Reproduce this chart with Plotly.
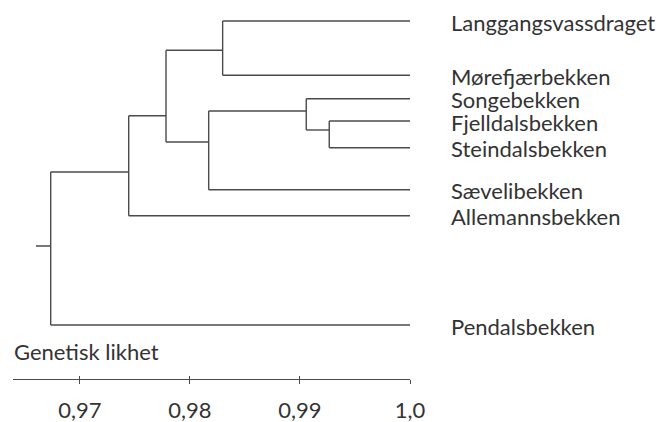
import plotly.graph_objects as go

# ---- data ----
leaves = ["Langgangsvassdraget", "Mørefjærbekken", "Songebekken", "Fjelldalsbekken",
          "Steindalsbekken", "Sævelibekken", "Allemannsbekken", "Pendalsbekken"]
# merges: (child_a, child_b, similarity); children are leaf names or merge ids "m0".."m6"
merge_a = ["Fjelldalsbekken", "Songebekken", "m1", "Langgangsvassdraget", "m3", "m4", "m5"]
merge_b = ["Steindalsbekken", "m0", "Sævelibekken", "Mørefjærbekken", "m2", "Allemannsbekken", "Pendalsbekken"]
merge_sim = [0.99266, 0.99057, 0.98170, 0.98297, 0.97782, 0.97443, 0.96734]
root_stub_sim = 0.96600
tick_vals = [0.97, 0.98, 0.99, 1.0]
tick_text = ["0,97", "0,98", "0,99", "1,0"]
axis_title = "Genetisk likhet"

# ---- layout positions (rows, in pixel-like units) ----
leaf_row = [21, 75.3, 98.7, 121, 147.7, 189.7, 215.7, 325]
merge_row = [130, 111, 142, 50.3, 115.7, 172, 246]

LINE = "#4a4a4a"
TEXT = "#333333"
FONT = "Lato"
FS = 22

pos = {}
for name, r in zip(leaves, leaf_row):
    pos[name] = (1.0, r)
for i, (s, r) in enumerate(zip(merge_sim, merge_row)):
    pos[f"m{i}"] = (s, r)

xs, ys = [], []
for i, (a, b, s) in enumerate(zip(merge_a, merge_b, merge_sim)):
    ax_, ay = pos[a]
    bx, by = pos[b]
    xs += [s, s, None]; ys += [ay, by, None]
    xs += [ax_, s, None]; ys += [ay, ay, None]
    xs += [bx, s, None]; ys += [by, by, None]
rs, rr = pos[f"m{len(merge_sim)-1}"]
xs += [root_stub_sim, rs, None]; ys += [rr, rr, None]

fig = go.Figure()
fig.add_trace(go.Scatter(x=xs, y=ys, mode="lines",
                         line=dict(color=LINE, width=1.4), hoverinfo="skip",
                         showlegend=False, cliponaxis=False))

annotations = []
for name, r in zip(leaves, leaf_row):
    annotations.append(dict(x=1.0, y=r, xref="x", yref="y", text=name, showarrow=False,
                            xanchor="left", yanchor="middle", xshift=40, yshift=-1,
                            borderpad=0,
                            font=dict(family=FONT, size=FS, color=TEXT)))
annotations.append(dict(x=13.3 / 664, y=351.7, xref="paper", yref="y", text=axis_title,
                        showarrow=False, xanchor="left", yanchor="middle", xshift=-1,
                        font=dict(family=FONT, size=FS, color=TEXT)))

axis_pos = 1 - 379 / 422
x_range = [0.96394, 1.0]
fig.update_layout(
    width=664, height=422, autosize=False,
    margin=dict(l=0, r=0, t=0, b=0),
    paper_bgcolor="white", plot_bgcolor="white",
    showlegend=False,
    annotations=annotations,
    xaxis=dict(domain=[13.3 / 664, 410 / 664], range=x_range, anchor="free",
               position=axis_pos, showgrid=False, zeroline=False, automargin=False,
               showline=True, linecolor=LINE, linewidth=1.4,
               ticks="outside", ticklen=4, tickwidth=1.4, tickcolor=LINE,
               tickvals=tick_vals, ticktext=tick_text, ticklabelstandoff=7,
               tickfont=dict(family=FONT, size=FS, color=TEXT)),
    xaxis2=dict(domain=[13.3 / 664, 410 / 664], range=x_range, anchor="free",
                overlaying="x", position=axis_pos, showgrid=False, zeroline=False,
                automargin=False,
                showline=False, ticks="inside", ticklen=3, tickwidth=1.4, tickcolor=LINE,
                tickvals=tick_vals, showticklabels=False),
    yaxis=dict(domain=[0, 1], range=[422, 0], visible=False, automargin=False),
)
fig.add_trace(go.Scatter(x=[None], y=[None], xaxis="x2", yaxis="y", showlegend=False))

fig.write_html("out.html",
               config={"displayModeBar": False, "responsive": False},
               post_script="document.body.style.margin='0';document.body.style.padding='0';"
                           "document.body.style.overflow='hidden';"
                           "document.documentElement.style.overflow='hidden';")
